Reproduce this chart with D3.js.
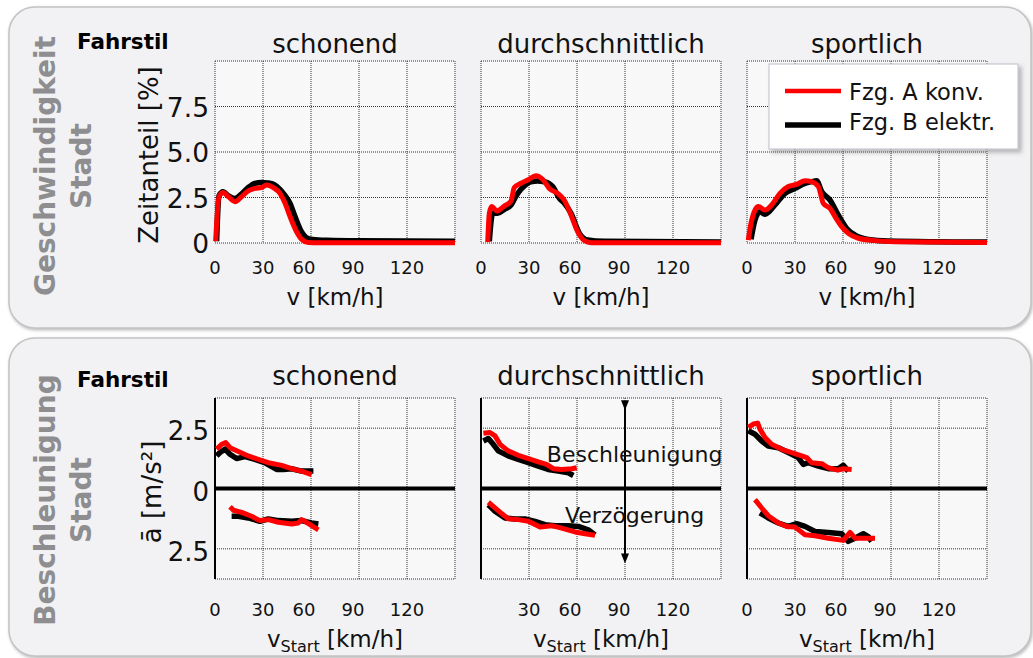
<!DOCTYPE html>
<html>
<head>
<meta charset="utf-8">
<script src="https://cdn.jsdelivr.net/npm/d3@7"></script>
<style>
  html, body { margin: 0; padding: 0; background: #ffffff; }
  svg { display: block; font-family: "DejaVu Sans", Verdana, sans-serif; }
</style>
</head>
<body>
<svg id="chart" width="1033" height="658"></svg>
<script>
// ---- data -------------------------------------------------------------
const styles = ["schonend", "durchschnittlich", "sportlich"];
const vehicles = ["Fzg. A konv.", "Fzg. B elektr."];
const vTicks = [0, 30, 60, 90, 120];
const shareTicks = [0, 2.5, 5.0, 7.5];
const shareTickLabels = ["0", "2.5", "5.0", "7.5"];
const accTicks = [-2.5, 0, 2.5];
const accTickLabels = ["2.5", "0", "2.5"];

// time share [%] over speed v [km/h]
const shareSchonendA = [[0.4,0.1],[2.5,2.55],[5.2,2.77],[8.3,2.55],[12.5,2.27],[16.7,2.55],[20.8,2.86],[25,3.0],[29,3.04],[32.3,3.19],[36.5,3.04],[40.6,2.73],[43.8,2.18],[46.9,1.45],[51,0.62],[54.2,0.2],[58.3,0.03],[65,0.01],[150,0.01]];
const shareSchonendB = [[1,0.1],[2.5,2.6],[5,2.82],[8.3,2.6],[12.5,2.45],[16.7,2.7],[20.8,3.05],[25,3.28],[29,3.33],[33,3.3],[37,3.2],[40.6,2.95],[43.8,2.6],[46.9,2.18],[50,1.45],[54,0.62],[57,0.3],[61,0.2],[70,0.15],[90,0.12],[150,0.1]];
const shareMittelA = [[4.2,0.05],[5.2,1.63],[6.7,2.0],[10,1.76],[14.6,2.03],[18.75,2.3],[20.8,3.05],[25,3.28],[29.2,3.46],[34.4,3.7],[38.5,3.5],[42.7,3.0],[47.9,2.73],[52,2.36],[56.25,1.54],[60.4,0.62],[64.6,0.13],[68.75,0.02],[150,0.01]];
const shareMittelB = [[5.2,0.1],[7.3,1.63],[10.4,1.63],[14.6,1.85],[18.75,2.09],[22,2.6],[25,2.95],[31.25,3.37],[35.4,3.4],[39.6,3.37],[44.8,3.1],[49,2.45],[52,2.2],[56.25,1.63],[61.5,0.53],[66.7,0.16],[77,0.09],[150,0.05]];
const shareSportlichA = [[0.8,0.16],[2.5,1.08],[5,1.81],[7.1,2.0],[11.25,1.81],[15.4,2.09],[20.6,2.73],[25.8,3.1],[31,3.22],[36.25,3.42],[40.4,3.37],[44.6,3.1],[47.7,2.18],[51.9,1.9],[55,1.45],[59.2,0.9],[63.3,0.53],[69.6,0.26],[80,0.13],[92.5,0.07],[150,0.03]];
const shareSportlichB = [[2.5,0.2],[5,1.26],[8.1,1.72],[11.25,1.58],[17.5,2.09],[23.75,2.73],[30,3.0],[36.25,3.28],[40.4,3.37],[43.5,3.42],[46.7,2.82],[51.9,2.36],[57,1.54],[62.3,0.8],[67.5,0.44],[75.8,0.2],[88,0.11],[150,0.05]];

// mean acceleration / deceleration [m/s²] over start speed [km/h]
const accSchonendA = [[1,1.63],[4.2,1.83],[6.7,1.9],[9.4,1.69],[14.6,1.53],[20.8,1.35],[27,1.21],[33.3,1.07],[41.7,0.96],[47.9,0.82],[54,0.72],[60.4,0.58]];
const accSchonendB = [[1,1.35],[3.1,1.49],[6.25,1.63],[9.4,1.42],[13.5,1.24],[18.75,1.32],[25,1.21],[31,1.07],[38.5,0.79],[42.7,0.79],[47.9,0.82],[54,0.72],[61.5,0.72]];
const decSchonendA = [[9.4,-0.76],[11.5,-0.9],[16.7,-0.99],[22.9,-1.15],[28,-1.33],[33.3,-1.29],[39.6,-1.4],[48,-1.47],[52,-1.43],[54.2,-1.29],[56.25,-1.36],[60.4,-1.54],[64.6,-1.71]];
const decSchonendB = [[10.4,-1.15],[14.6,-1.15],[20.8,-1.22],[28,-1.36],[33.3,-1.26],[39.6,-1.33],[48,-1.36],[54,-1.33],[60.4,-1.43],[64.6,-1.47]];
const accMittelA = [[1.5,2.29],[5.6,2.32],[8.75,2.18],[11.9,1.83],[17,1.56],[23.3,1.375],[29.6,1.24],[35.8,1.1],[41,1.0],[45.2,0.82],[50.4,0.79],[56.7,0.82],[59.8,0.86]];
const accMittelB = [[1.5,1.97],[4.6,2.07],[7.7,1.83],[10.8,1.56],[17,1.35],[23.3,1.21],[29.6,1.07],[35.8,0.93],[42,0.79],[48.3,0.72],[54.6,0.65],[57.7,0.54]];
const decMittelA = [[4.6,-0.57],[8.75,-0.8],[12.9,-1.04],[17,-1.25],[23.3,-1.29],[29.6,-1.36],[36.9,-1.6],[44.2,-1.54],[50.4,-1.64],[58.75,-1.8],[65,-1.875],[71.25,-1.94]];
const decMittelB = [[4.6,-0.67],[8.75,-0.94],[15,-1.22],[21.25,-1.26],[27.5,-1.26],[33.75,-1.36],[40,-1.5],[46.25,-1.54],[54.6,-1.54],[60.8,-1.57],[67,-1.71],[71.25,-1.92]];
const accSportlichA = [[0.8,2.53],[4,2.67],[6.7,2.71],[8.1,2.46],[11.25,2.11],[15.4,1.83],[21.7,1.625],[27.9,1.49],[34.2,1.35],[37.3,1.28],[40.4,1.07],[46.7,1.03],[50.8,0.86],[56.7,0.76],[60.2,0.82],[65.4,0.79]];
const accSportlichB = [[0.8,2.39],[5,2.25],[9.2,1.97],[13.3,1.76],[19.6,1.69],[25.8,1.49],[32,1.28],[35.2,1.0],[38.3,1.07],[44.6,0.93],[50.8,0.82],[57,0.82],[60.2,0.96],[63.3,0.72]];
const decSportlichA = [[5,-0.46],[9.2,-0.81],[13.3,-1.125],[19.6,-1.43],[24.8,-1.57],[30,-1.6],[36.25,-1.92],[42.5,-1.96],[50.8,-2.06],[60.2,-2.15],[64.4,-1.82],[67.5,-2.06],[73.75,-2.06],[80,-2.06]];
const decSportlichB = [[8.1,-1.01],[13.3,-1.22],[19.6,-1.43],[25.8,-1.57],[31,-1.46],[36.25,-1.57],[42.5,-1.78],[50.8,-1.82],[59.2,-1.875],[63.3,-2.19],[67.5,-2.06],[72.7,-1.875],[75.8,-1.99],[77.9,-2.19]];

const shareSeries = [
  { A: shareSchonendA, B: shareSchonendB },
  { A: shareMittelA, B: shareMittelB },
  { A: shareSportlichA, B: shareSportlichB }
];
const accSeries = [
  { A: [accSchonendA, decSchonendA], B: [accSchonendB, decSchonendB] },
  { A: [accMittelA, decMittelA], B: [accMittelB, decMittelB] },
  { A: [accSportlichA, decSportlichA], B: [accSportlichB, decSportlichB] }
];

// ---- layout -----------------------------------------------------------
const svg = d3.select("#chart");
const colX = [215, 481, 747];
const plotW = 240;
const RED = "#ff0000", BLACK = "#000000";
const gridColor = "#333";
const labelNudge = { 0: 0, 30: 0, 60: -7, 90: -6, 120: 0 };

const defs = svg.append("defs");
const shadow = defs.append("filter").attr("id", "panelShadow")
  .attr("x", "-5%").attr("y", "-5%").attr("width", "110%").attr("height", "110%");
shadow.append("feDropShadow").attr("dx", 1).attr("dy", 1.5)
  .attr("stdDeviation", 1.6).attr("flood-color", "#808080").attr("flood-opacity", 0.55);
const legShadow = defs.append("filter").attr("id", "legendShadow")
  .attr("x", "-10%").attr("y", "-10%").attr("width", "125%").attr("height", "130%");
legShadow.append("feDropShadow").attr("dx", 3).attr("dy", 3)
  .attr("stdDeviation", 2).attr("flood-color", "#777").attr("flood-opacity", 0.5);
["arrowUp", "arrowDown"].forEach(id => {
  defs.append("marker").attr("id", id)
    .attr("viewBox", "0 0 10 10").attr("refX", 5).attr("refY", 5)
    .attr("markerWidth", 5).attr("markerHeight", 6).attr("orient", "auto")
    .append("path").attr("d", "M0,1 L10,5 L0,9 Z").attr("fill", "#000");
});

// background panels
const panels = [{ y: 7, h: 321 }, { y: 338, h: 318 }];
panels.forEach(p => {
  svg.append("rect").attr("x", 9).attr("y", p.y).attr("width", 1022).attr("height", p.h)
    .attr("rx", 26).attr("ry", 26)
    .attr("fill", "#f2f2f4").attr("stroke", "#c4c4c4").attr("stroke-width", 1.5)
    .attr("filter", "url(#panelShadow)");
});

// row-level labels
function sideLabels(cy, first) {
  [[55, first], [91, "Stadt"]].forEach(([bx, txt]) => {
    svg.append("text").attr("transform", `translate(${bx},${cy}) rotate(-90)`)
      .attr("text-anchor", "middle").attr("font-size", 28).attr("font-weight", "bold")
      .attr("fill", "#8e8e90").text(txt);
  });
}
sideLabels(166, "Geschwindigkeit");
sideLabels(500, "Beschleunigung");

// ---- top row: speed distribution ---------------------------------------
const topY = d3.scaleLinear().domain([0, 10]).range([243, 61]);
const botY = d3.scaleLinear().domain([-3.75, 3.75]).range([579, 398]);

function plotFrame(g, x, y, yGrid, solidLeft) {
  const [y0, y1] = y.range();
  g.append("rect").attr("x", x(0)).attr("y", y1).attr("width", plotW).attr("height", y0 - y1)
    .attr("fill", "#f8f8f9");
  const dotted = sel => sel.attr("stroke", gridColor).attr("stroke-width", 1).attr("stroke-dasharray", "1,1");
  [...vTicks.slice(1), 150].forEach(v => {
    g.append("line").attr("x1", x(v)).attr("x2", x(v)).attr("y1", y1).attr("y2", y0).call(dotted);
  });
  [...yGrid, y.domain()[0], y.domain()[1]].forEach(val => {
    g.append("line").attr("x1", x(0)).attr("x2", x(150)).attr("y1", y(val)).attr("y2", y(val)).call(dotted);
  });
  const left = g.append("line").attr("x1", x(0)).attr("x2", x(0)).attr("y1", y1).attr("y2", y0);
  if (solidLeft) left.attr("stroke", "#000").attr("stroke-width", 2);
  else left.call(dotted);
}

function xTickLabels(g, x, baseline, skipZero) {
  vTicks.forEach(v => {
    if (skipZero && v === 0) return;
    g.append("text").attr("x", x(v) + labelNudge[v]).attr("y", baseline)
      .attr("text-anchor", "middle").attr("font-size", 18).attr("fill", "#111").text(v);
  });
}

const lineShare = (x) => d3.line().x(d => x(d[0])).y(d => topY(d[1])).curve(d3.curveMonotoneX);

styles.forEach((name, i) => {
  const x = d3.scaleLinear().domain([0, 150]).range([colX[i], colX[i] + plotW]);
  const g = svg.append("g");
  plotFrame(g, x, topY, [2.5, 5, 7.5], false);

  g.append("path").datum(shareSeries[i].B).attr("d", lineShare(x))
    .attr("fill", "none").attr("stroke", BLACK).attr("stroke-width", 5.5).attr("stroke-linejoin", "round");
  g.append("path").datum(shareSeries[i].A).attr("d", lineShare(x))
    .attr("fill", "none").attr("stroke", RED).attr("stroke-width", 5).attr("stroke-linejoin", "round");

  g.append("text").attr("x", x(75)).attr("y", 53).attr("text-anchor", "middle")
    .attr("font-size", 26).attr("fill", "#111").text(name);
  xTickLabels(g, x, 274, false);
  g.append("text").attr("x", x(75)).attr("y", 305).attr("text-anchor", "middle")
    .attr("font-size", 23).attr("fill", "#111").text("v [km/h]");
});

// y axis of top row
shareTicks.forEach((t, k) => {
  svg.append("text").attr("x", 209).attr("y", topY(t) + 10).attr("text-anchor", "end")
    .attr("font-size", 26.5).attr("fill", "#111").text(shareTickLabels[k]);
});
svg.append("text").attr("transform", "translate(158,155) rotate(-90)")
  .attr("text-anchor", "middle").attr("font-size", 26).attr("fill", "#111").text("Zeitanteil [%]");
svg.append("text").attr("x", 77).attr("y", 49).attr("font-size", 21.5)
  .attr("font-weight", "bold").attr("fill", "#000").text("Fahrstil");

// legend
{
  const lg = svg.append("g");
  lg.append("rect").attr("x", 769).attr("y", 64).attr("width", 249).attr("height", 85)
    .attr("fill", "#ffffff").attr("stroke", "#c9c9d4").attr("stroke-width", 1.2)
    .attr("filter", "url(#legendShadow)");
  [[RED, 4.5, 91, 100, vehicles[0]], [BLACK, 5.5, 125, 130, vehicles[1]]].forEach(([c, w, ly, ty, label]) => {
    lg.append("line").attr("x1", 785).attr("x2", 841).attr("y1", ly).attr("y2", ly)
      .attr("stroke", c).attr("stroke-width", w);
    lg.append("text").attr("x", 849).attr("y", ty).attr("font-size", 22.5)
      .attr("fill", "#111").text(label);
  });
}

// ---- bottom row: mean acceleration --------------------------------------
const lineAcc = (x) => d3.line().x(d => x(d[0])).y(d => botY(d[1])).curve(d3.curveLinear);

styles.forEach((name, i) => {
  const x = d3.scaleLinear().domain([0, 150]).range([colX[i], colX[i] + plotW]);
  const g = svg.append("g");
  plotFrame(g, x, botY, [-2.5, 2.5], true);
  g.append("line").attr("x1", x(0)).attr("x2", x(150)).attr("y1", botY(0)).attr("y2", botY(0))
    .attr("stroke", "#000").attr("stroke-width", 4);

  if (i === 1) {
    g.append("line").attr("x1", x(90)).attr("x2", x(90))
      .attr("y1", botY(3.45)).attr("y2", botY(-2.9))
      .attr("stroke", "#000").attr("stroke-width", 2)
      .attr("marker-start", "url(#arrowUp)").attr("marker-end", "url(#arrowDown)");
    g.append("text").attr("x", x(96)).attr("y", botY(1.1)).attr("text-anchor", "middle")
      .attr("font-size", 22).attr("fill", "#111").text("Beschleunigung");
    g.append("text").attr("x", x(96)).attr("y", botY(-1.45)).attr("text-anchor", "middle")
      .attr("font-size", 22).attr("fill", "#111").text("Verzögerung");
  }

  accSeries[i].B.forEach(seg => {
    g.append("path").datum(seg).attr("d", lineAcc(x))
      .attr("fill", "none").attr("stroke", BLACK).attr("stroke-width", 5.5).attr("stroke-linejoin", "round");
  });
  accSeries[i].A.forEach(seg => {
    g.append("path").datum(seg).attr("d", lineAcc(x))
      .attr("fill", "none").attr("stroke", RED).attr("stroke-width", 5).attr("stroke-linejoin", "round");
  });

  g.append("text").attr("x", x(75)).attr("y", 385).attr("text-anchor", "middle")
    .attr("font-size", 26).attr("fill", "#111").text(name);
  xTickLabels(g, x, 616, i === 1);
  const t = g.append("text").attr("x", x(75)).attr("y", 647).attr("text-anchor", "middle")
    .attr("font-size", 23).attr("fill", "#111");
  t.append("tspan").text("v");
  t.append("tspan").attr("font-size", 16).attr("dy", 5).text("Start");
  t.append("tspan").attr("dy", -5).text(" [km/h]");
});

// y axis of bottom row
accTicks.forEach((t, k) => {
  svg.append("text").attr("x", 209).attr("y", botY(t) + 12).attr("text-anchor", "end")
    .attr("font-size", 26).attr("fill", "#111").text(accTickLabels[k]);
});
svg.append("text").attr("transform", "translate(161,492) rotate(-90)")
  .attr("text-anchor", "middle").attr("font-size", 26).attr("fill", "#111").text("ā [m/s²]");
svg.append("text").attr("x", 77).attr("y", 387).attr("font-size", 21.5)
  .attr("font-weight", "bold").attr("fill", "#000").text("Fahrstil");
</script>
</body>
</html>
